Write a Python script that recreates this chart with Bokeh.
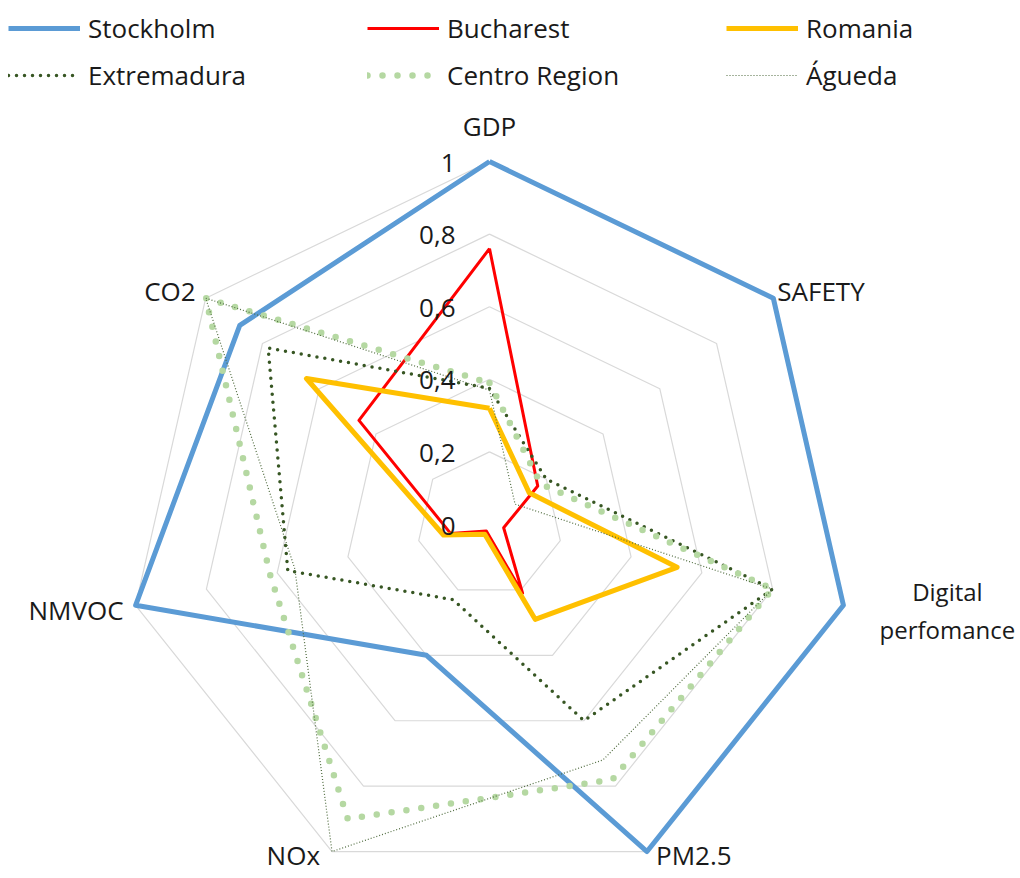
import numpy as np
from bokeh.plotting import figure
from bokeh.models import Range1d, Legend, LegendItem, ColumnDataSource
from bokeh.core.properties import value
from bokeh.embed import file_html
from bokeh.resources import INLINE

# ---------------- data ----------------
categories = ["GDP", "SAFETY", "Digital\nperfomance", "PM2.5", "NOx", "NMVOC", "CO2"]
stockholm = [1.00, 1.00, 1.00, 1.00, 0.40, 1.00, 0.88]
bucharest = [0.76, 0.17, 0.04, 0.21, 0.02, 0.11, 0.46]
romania = [0.32, 0.14, 0.53, 0.29, 0.03, 0.13, 0.645]
extremadura = [0.375, 0.20, 0.80, 0.60, 0.23, 0.57, 0.78]
centro_region = [0.39, 0.18, 0.80, 0.78, 0.90, 0.62, 1.00]
agueda = [0.37, 0.09, 0.80, 0.72, 1.00, 0.55, 1.00]
series_names = ["Stockholm", "Bucharest", "Romania", "Extremadura", "Centro Region", "Águeda"]
tick_values = [0, 0.2, 0.4, 0.6, 0.8, 1.0]
tick_labels = ["0", "0,2", "0,4", "0,6", "0,8", "1"]

# ---------------- layout ----------------
FONT = "Open Sans"
FS = "26px"
CX, CY, R = 489, 524, 363          # centre / radius in page pixels
W, H = 1016, 876
n = len(categories)
theta = np.arange(n) * 2 * np.pi / n
ux, uy = np.sin(theta), np.cos(theta)


def closed(vals):
    v = np.asarray(vals, dtype=float)
    x = v * ux
    y = v * uy
    return np.append(x, x[0]), np.append(y, y[0])


p = figure(width=W, height=H, output_backend="svg", toolbar_location=None,
           x_range=Range1d((0 - CX) / R, (W - CX) / R),
           y_range=Range1d((CY - H) / R, CY / R),
           x_axis_location=None, y_axis_location=None,
           min_border=0, outline_line_color=None)
p.grid.visible = False
p.background_fill_color = "white"

# grid rings
for t in tick_values[1:]:
    gx, gy = closed([t] * n)
    p.line(gx, gy, line_color="#D9D9D9", line_width=1.2)

styles = [
    dict(line_color="#5B9BD5", line_width=5, line_join="round"),
    dict(line_color="#FF0000", line_width=3, line_join="round"),
    dict(line_color="#FFC000", line_width=5, line_join="round"),
    dict(line_color="#375623", line_width=3.5, line_dash="0 8", line_cap="round", line_join="round"),
    dict(line_color="#B5D8A2", line_width=6.5, line_dash="0 15", line_cap="round", line_join="round"),
    dict(line_color="#4F6B3E", line_width=1.2, line_dash="1 2", line_join="round"),
]
all_series = [stockholm, bucharest, romania, extremadura, centro_region, agueda]

items = []
for name, vals, st in zip(series_names, all_series, styles):
    sx, sy = closed(vals)
    r = p.line(sx, sy, **st)
    items.append(LegendItem(label=name, renderers=[r]))

legend = Legend(items=items, orientation="horizontal", ncols=3,
                location="top_left", margin=8, padding=0,
                glyph_width=72, glyph_height=40, label_height=40,
                label_width=272, label_standoff=8, spacing=7,
                label_text_font=FONT, label_text_font_size=FS,
                label_text_color="#1a1a1a",
                border_line_alpha=0, background_fill_alpha=0)
p.add_layout(legend, "center")

# tick labels along the GDP spoke
tsrc = ColumnDataSource(dict(x=[0.0] * len(tick_values), y=tick_values, t=tick_labels))
p.text(x="x", y="y", text="t", source=tsrc, x_offset=-34, y_offset=1,
       text_align="right", text_baseline="middle",
       text_font=value(FONT), text_font_size=FS, text_color="#1a1a1a")

# category labels
x_off = [0, 4, 104, 9, -12, -12, -10]
y_off = [-36, -7, 5, 3, 3, 5, -7]
aligns = ["center", "left", "center", "left", "right", "right", "right"]
sizes = [FS, FS, "24px", FS, FS, FS, FS]
csrc = ColumnDataSource(dict(x=ux, y=uy, t=categories, xo=x_off, yo=y_off, al=aligns, fs=sizes))
p.text(x="x", y="y", text="t", source=csrc, x_offset="xo", y_offset="yo",
       text_align="al", text_baseline="middle", text_line_height=1.15,
       text_font=value(FONT), text_font_size="fs", text_color="#1a1a1a")

open("out.html", "w").write(file_html(p, INLINE))
